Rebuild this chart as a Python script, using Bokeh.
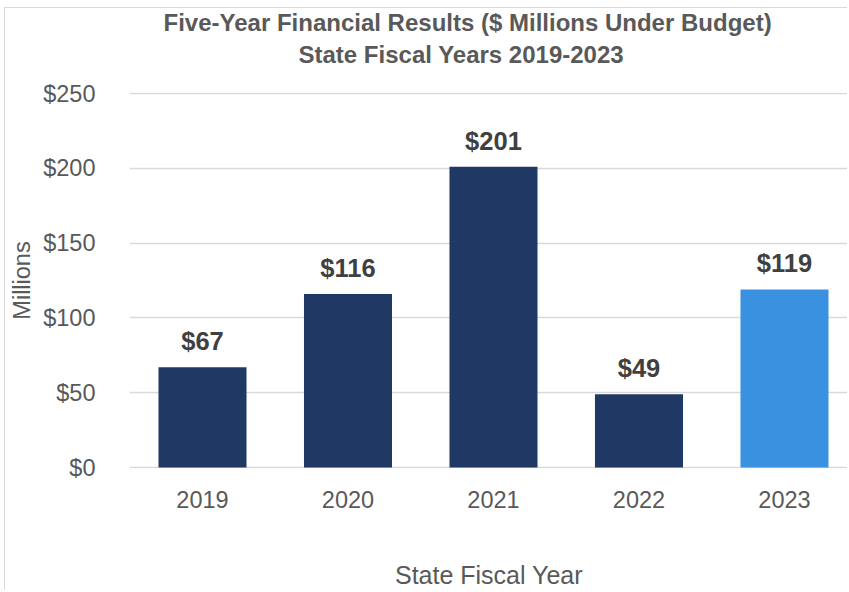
from bokeh.plotting import figure
from bokeh.models import ColumnDataSource, Range1d, FixedTicker, Title
from bokeh.core.properties import value
from bokeh.embed import file_html
from bokeh.resources import INLINE

years = ["2019", "2020", "2021", "2022", "2023"]
results = [67, 116, 201, 49, 119]
bar_colors = ["#1F3864", "#1F3864", "#1F3864", "#1F3864", "#3A91E0"]
y_ticks = [0, 50, 100, 150, 200, 250]
y_tick_labels = ["$0", "$50", "$100", "$150", "$200", "$250"]
title_lines = ["Five-Year Financial Results ($ Millions Under Budget)",
               "State Fiscal Years 2019-2023"]
x_title = "State Fiscal Year"
y_title = "Millions"

FONT = "Liberation Sans"
GREY = "#595959"

xs = list(range(len(years)))
source = ColumnDataSource(dict(
    x=xs, top=results, color=bar_colors,
    label=[f"${v}" for v in results],
))

p = figure(width=843, height=583, output_backend="svg", toolbar_location=None,
           x_range=Range1d(-0.5017, 4.440), y_range=Range1d(-0.667, 250.67),
           min_border_left=124, min_border_right=0,
           min_border_top=84, min_border_bottom=122)
p.styles = {"margin-left": "4px", "margin-top": "7px",
            "border-left": "1px solid #D9D9D9", "border-top": "1px solid #D9D9D9"}
p.outline_line_color = None
p.background_fill_color = "white"
p.border_fill_color = "white"

p.vbar(x="x", top="top", bottom=0, width=0.605, color="color", line_color=None,
       source=source)
p.text(x="x", y="top", text="label", source=source, y_offset=-26,
       text_align="center", text_baseline="alphabetic",
       text_font=value(FONT), text_font_style="bold", text_font_size="25.5px",
       text_color="#404040")

# axes
p.xaxis.ticker = FixedTicker(ticks=xs)
p.xaxis.major_label_overrides = {i: y for i, y in zip(xs, years)}
p.yaxis.ticker = FixedTicker(ticks=y_ticks)
p.yaxis.major_label_overrides = {t: l for t, l in zip(y_ticks, y_tick_labels)}
for ax in (p.xaxis, p.yaxis):
    ax.axis_line_color = None
    ax.major_tick_line_color = None
    ax.minor_tick_line_color = None
    ax.major_label_text_font = FONT
    ax.major_label_text_font_size = "23.5px"
    ax.major_label_text_color = GREY
    ax.axis_label_text_font = FONT
    ax.axis_label_text_font_style = "normal"
    ax.axis_label_text_color = GREY
p.xaxis.major_label_standoff = 16
p.yaxis.major_label_standoff = 28
p.xaxis.axis_label = x_title
p.xaxis.axis_label_text_font_size = "25px"
p.xaxis.axis_label_standoff = 50
p.yaxis.axis_label = y_title
p.yaxis.axis_label_text_font_size = "23.5px"
p.yaxis.axis_label_standoff = 5

p.xgrid.grid_line_color = None
p.ygrid.ticker = FixedTicker(ticks=y_ticks)
p.ygrid.grid_line_color = "#D9D9D9"
p.ygrid.grid_line_width = 1.3

# titles (second line closest to plot, first line above it)
p.add_layout(Title(text=title_lines[1], align="left", offset=169, standoff=50,
                   text_font=FONT, text_font_style="bold",
                   text_font_size="24px", text_color=GREY), "above")
p.add_layout(Title(text=title_lines[0], align="left", offset=34, standoff=-44,
                   text_font=FONT, text_font_style="bold",
                   text_font_size="24px", text_color=GREY), "above")

open("out.html", "w").write(file_html(p, INLINE))
